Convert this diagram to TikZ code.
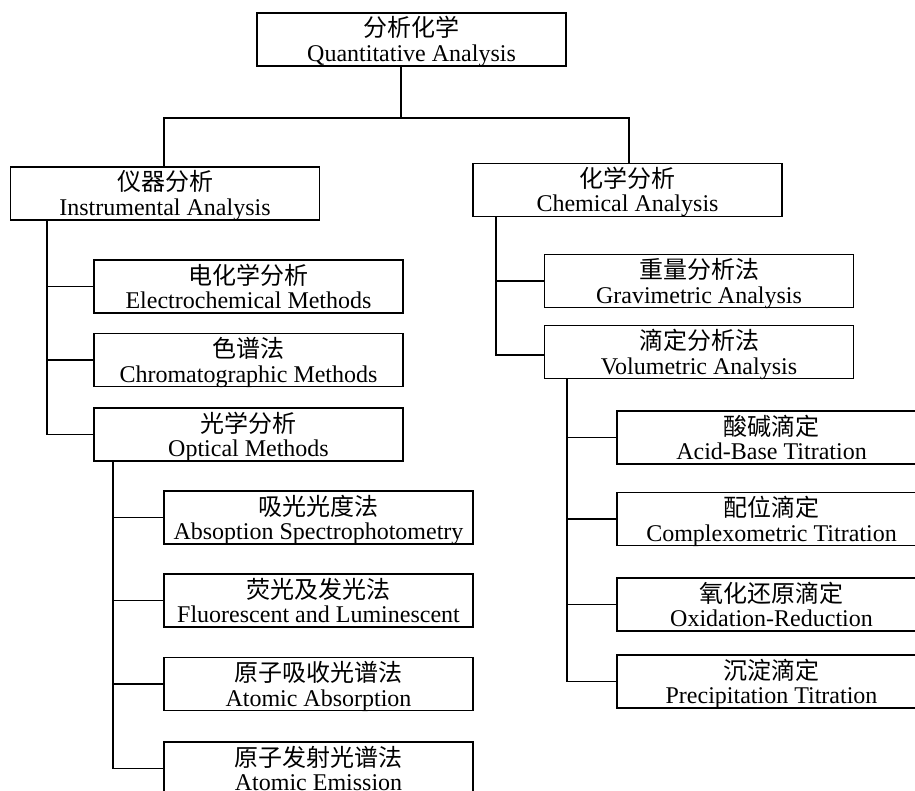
\documentclass[tikz,border=0pt]{standalone}
\usepackage{fontspec}
\setmainfont{Liberation Serif}
\newfontfamily\cjk{Noto Sans CJK SC}
\usepackage{tikz}
\usetikzlibrary{positioning, calc}

\tikzset{
  catbox/.style={draw, line width=0.9pt, minimum width=154.5pt, minimum height=26.5pt, inner sep=0pt, text height=24.25pt, text depth=2.25pt, align=center, font=\fontsize{12}{12.25}\selectfont},
  link/.style={line width=0.9pt}
}

\begin{document}
\begin{tikzpicture}[x=0.5pt, y=-0.5pt]
    \useasboundingbox (0,0) rectangle (915,791);
    % Top level
    \node[catbox] (root) at (411.5, 39.5) {{\cjk 分析化学}\\Quantitative Analysis};
    \node[catbox] (instr) at (165, 193.5) {{\cjk 仪器分析}\\Instrumental Analysis};
    \node[catbox] (chem) at (627.5, 190) {{\cjk 化学分析}\\Chemical Analysis};
    % Instrumental branch
    \node[catbox] (elec) at (248.5, 286.5) {{\cjk 电化学分析}\\Electrochemical Methods};
    \node[catbox] (chrom) at (248.5, 360) {{\cjk 色谱法}\\Chromatographic Methods};
    \node[catbox] (opt) at (248.5, 434.5) {{\cjk 光学分析}\\Optical Methods};
    % Optical branch
    \node[catbox] (absp) at (318.5, 517.5) {{\cjk 吸光光度法}\\Absoption Spectrophotometry};
    \node[catbox] (fluo) at (318.5, 600.5) {{\cjk 荧光及发光法}\\Fluorescent and Luminescent};
    \node[catbox] (aas) at (318.5, 684) {{\cjk 原子吸收光谱法}\\Atomic Absorption};
    \node[catbox] (aes) at (318.5, 768.5) {{\cjk 原子发射光谱法}\\Atomic Emission};
    % Chemical branch
    \node[catbox] (grav) at (699, 281) {{\cjk 重量分析法}\\Gravimetric Analysis};
    \node[catbox] (vol) at (699, 352) {{\cjk 滴定分析法}\\Volumetric Analysis};
    % Volumetric branch
    \node[catbox] (acid) at (771.5, 437.5) {{\cjk 酸碱滴定}\\Acid-Base Titration};
    \node[catbox] (cplx) at (771.5, 519) {{\cjk 配位滴定}\\Complexometric Titration};
    \node[catbox] (redox) at (771.5, 604.5) {{\cjk 氧化还原滴定}\\Oxidation-Reduction};
    \node[catbox] (prec) at (771.5, 681.5) {{\cjk 沉淀滴定}\\Precipitation Titration};
    % Connectors
    \coordinate (fork) at ($(root.south)+(-10.5,51)$);
    \draw[link] ([xshift=-5.25pt]root.south) -- (fork);
    \draw[link] (fork) -| ([xshift=-0.5pt]instr.north);
    \draw[link] (fork) -| ([xshift=0.75pt]chem.north);
    \draw[link] ([xshift=18.5pt]instr.south west) |- (elec.west);
    \draw[link] ([xshift=18.5pt]instr.south west) |- (chrom.west);
    \draw[link] ([xshift=18.5pt]instr.south west) |- (opt.west);
    \draw[link] ([xshift=10pt]opt.south west) |- (absp.west);
    \draw[link] ([xshift=10pt]opt.south west) |- (fluo.west);
    \draw[link] ([xshift=10pt]opt.south west) |- (aas.west);
    \draw[link] ([xshift=10pt]opt.south west) |- (aes.west);
    \draw[link] ([xshift=12pt]chem.south west) |- (grav.west);
    \draw[link] ([xshift=12pt]chem.south west) |- ([yshift=-1.5pt]vol.west);
    \draw[link] ([xshift=11.5pt]vol.south west) |- (acid.west);
    \draw[link] ([xshift=11.5pt]vol.south west) |- (cplx.west);
    \draw[link] ([xshift=11.5pt]vol.south west) |- (redox.west);
    \draw[link] ([xshift=11.5pt]vol.south west) |- (prec.west);
\end{tikzpicture}
\end{document}
